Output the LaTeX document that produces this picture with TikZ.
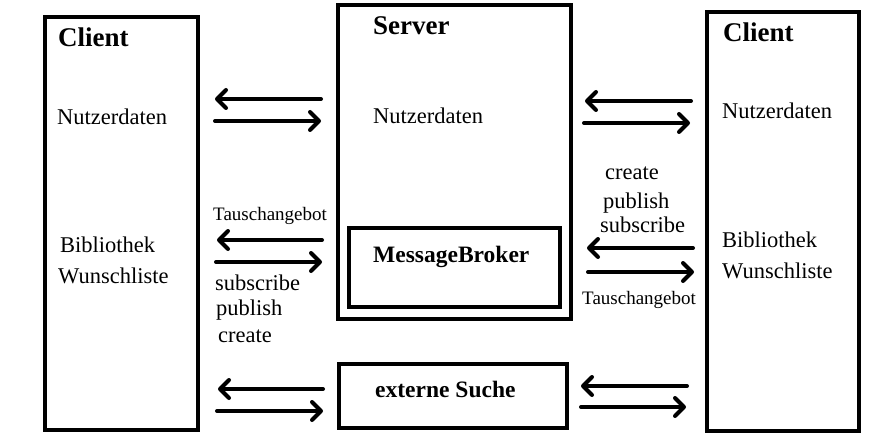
\documentclass[tikz,border=0pt]{standalone}
\usepackage{fontspec}
\setmainfont{Liberation Serif}
\usetikzlibrary{arrows.meta}
\begin{document}
\begin{tikzpicture}[x=1pt,y=-1pt,
  box/.style={draw,line width=4pt,inner sep=0pt,outer sep=0pt},
  lbl/.style={anchor=base west,inner sep=0pt,font=\fontsize{22.5}{26}\selectfont},
  small/.style={anchor=base west,inner sep=0pt,font=\fontsize{19}{22}\selectfont},
  ttl/.style={anchor=base west,inner sep=0pt,font=\fontsize{27}{30}\selectfont\bfseries},
  sub/.style={anchor=base west,inner sep=0pt,font=\fontsize{23.5}{27}\selectfont\bfseries},
  flow/.style={line width=4pt,line cap=round,-{Straight Barb[length=9pt,width=18pt,line cap=round,line join=round]}}]
\useasboundingbox (0,0) rectangle (882,446);
% boxes
\node[box,minimum width=153pt,minimum height=413pt] (cl) at (121.5,223.5) {};
\node[box,minimum width=233pt,minimum height=314pt] (srv) at (454.5,162) {};
\node[box,minimum width=211pt,minimum height=79pt] (mb) at (454.5,267.5) {};
\node[box,minimum width=228pt,minimum height=64pt] (ext) at (453,396) {};
\node[box,minimum width=152pt,minimum height=419pt] (cr) at (783,221.5) {};
% texts left client
\node[ttl] (t1) at (58,47) {Client};
\node[lbl] (t2) at (57,125) {Nutzerdaten};
\node[lbl] (t3) at (60,252) {Bibliothek};
\node[lbl] (t4) at (58,283) {Wunschliste};
% left labels
\node[small] (t5) at (213,221) {Tauschangebot};
\node[lbl] (t6) at (215,290) {subscribe};
\node[lbl] (t7) at (216,315) {publish};
\node[lbl] (t8) at (218,342) {create};
% server
\node[ttl] (t9) at (373,35) {Server};
\node[lbl] (t10) at (373,124) {Nutzerdaten};
\node[sub] (t11) at (373,262) {MessageBroker};
\node[sub] (t12) at (375,397) {externe Suche};
% right labels
\node[lbl] (t13) at (605,180) {create};
\node[lbl] (t14) at (603,208) {publish};
\node[lbl] (t15) at (600,233) {subscribe};
\node[small] (t16) at (582,304) {Tauschangebot};
% right client
\node[ttl] (t17) at (723,42) {Client};
\node[lbl] (t18) at (722,119) {Nutzerdaten};
\node[lbl] (t19) at (722,247) {Bibliothek};
\node[lbl] (t20) at (722,278) {Wunschliste};
% arrow end points
\coordinate (a1s) at (321,99);  \coordinate (a1e) at (215,99);
\coordinate (a2s) at (215,121); \coordinate (a2e) at (321,121);
\coordinate (a3s) at (322,240); \coordinate (a3e) at (217,240);
\coordinate (a4s) at (216,262); \coordinate (a4e) at (322,262);
\coordinate (a5s) at (323,389); \coordinate (a5e) at (218,389);
\coordinate (a6s) at (217,411); \coordinate (a6e) at (323,411);
\coordinate (b1s) at (691,101); \coordinate (b1e) at (585,101);
\coordinate (b2s) at (584,123); \coordinate (b2e) at (690,123);
\coordinate (b3s) at (693,248); \coordinate (b3e) at (587,248);
\coordinate (b4s) at (588,272); \coordinate (b4e) at (694,272);
\coordinate (b5s) at (687,386); \coordinate (b5e) at (581,386);
\coordinate (b6s) at (581,407); \coordinate (b6e) at (686,407);
\foreach \p in {a1,a2,a3,a4,a5,a6,b1,b2,b3,b4,b5,b6}
  \draw[flow] (\p s) -- (\p e);
\end{tikzpicture}
\end{document}
